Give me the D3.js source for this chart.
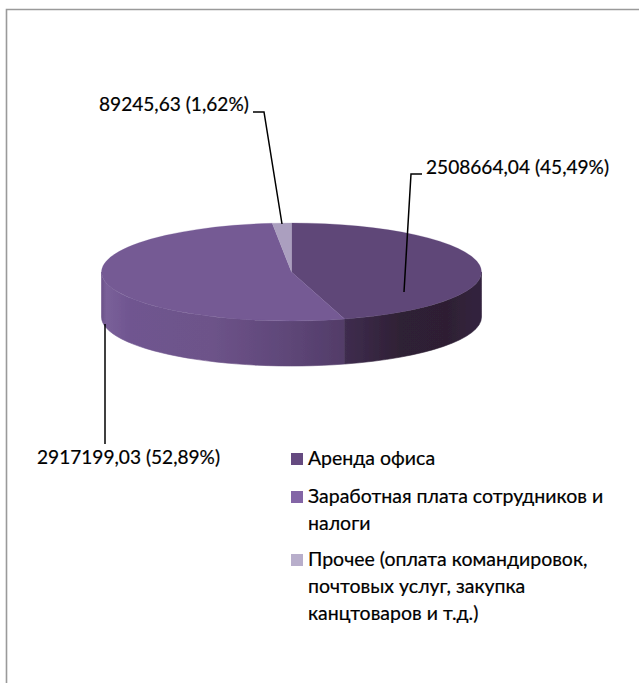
<!DOCTYPE html>
<html>
<head>
<meta charset="utf-8">
<script src="https://cdn.jsdelivr.net/npm/d3@7"></script>
<style>
  html, body { margin: 0; padding: 0; background: #fff; }
  svg { display: block; }
  text { font-family: Lato, "Open Sans", sans-serif; fill: #000; stroke: #000; stroke-width: 0.2; }
</style>
</head>
<body>
<script>
const categories = ['Аренда офиса', 'Заработная плата сотрудников и налоги', 'Прочее (оплата командировок, почтовых услуг, закупка канцтоваров и т.д.)']
const values = [2508664.04, 2917199.03, 89245.63]
const legendLines = [
  ['Аренда офиса'],
  ['Заработная плата сотрудников и', 'налоги'],
  ['Прочее (оплата командировок,', 'почтовых услуг, закупка', 'канцтоваров и т.д.)']
]
const topColors = ['#5f4678', '#745a94', '#ab9fbf']
const legendColors = ['#654a80', '#8365a6', '#b8aecb']

const width = 639
const height = 683

const svg = d3.select('body').append('svg')
  .attr('width', width)
  .attr('height', height)

// frame, only top and left are visible
svg.append('path')
  .attr('d', `M${width},9.5H6.5V${height}`)
  .attr('fill', 'none')
  .attr('stroke', '#9a9a9a')
  .attr('stroke-width', 1.6)

const cx = 291.5
const cy = 272
const rx = 190
const ry = 49
const depth = 45

const total = d3.sum(values)
const pie = d3.pie().sort(null)(values)
const arc = d3.arc().innerRadius(0).outerRadius(rx)
const locale = d3.formatLocale({ decimal: ',', thousands: '', grouping: [3], currency: ['', ''] })
const fmt = locale.format('.2f')
const labelText = i => `${fmt(values[i])} (${fmt(values[i] / total * 100)}%)`

const defs = svg.append('defs')

defs.append('filter')
  .attr('id', 'soft')
  .append('feGaussianBlur')
  .attr('stdDeviation', 0.45)

const wallGrad = (id, stops, x0, x1) => {
  const g = defs.append('linearGradient')
    .attr('id', id)
    .attr('gradientUnits', 'userSpaceOnUse')
    .attr('x1', x0).attr('x2', x1)
    .attr('y1', 0).attr('y2', 0)
  stops.forEach(s => g.append('stop').attr('offset', s[0]).attr('stop-color', s[1]))
}

const px = a => cx + rx * Math.sin(a)
const py = a => cy - ry * Math.cos(a)

wallGrad('wall0', [[0, '#3f2d4f'], [0.4, '#2f2035'], [0.75, '#2e1f33'], [1, '#33243f']], px(pie[0].endAngle), cx + rx)
wallGrad('wall1', [[0, '#6b5289'], [0.02, '#7a6099'], [0.12, '#6f5590'], [0.45, '#6d5389'], [0.75, '#5f4779'], [1, '#523c68']], cx - rx, px(pie[0].endAngle))

const pieGroup = svg.append('g').attr('filter', 'url(#soft)')

// walls, front half of the ellipse only
const wall = (a0, a1) => {
  const x0 = px(a0), y0 = py(a0), x1 = px(a1), y1 = py(a1)
  return `M${x0},${y0}A${rx},${ry} 0 0 1 ${x1},${y1}L${x1},${y1 + depth}A${rx},${ry} 0 0 0 ${x0},${y0 + depth}Z`
}
pieGroup.append('path')
  .attr('d', wall(pie[0].endAngle, Math.PI * 1.5))
  .attr('fill', 'url(#wall1)')
  .attr('stroke', 'url(#wall1)')
  .attr('stroke-width', 0.6)
pieGroup.append('path')
  .attr('d', wall(Math.PI / 2, pie[0].endAngle))
  .attr('fill', 'url(#wall0)')
  .attr('stroke', 'url(#wall0)')
  .attr('stroke-width', 0.6)

// top face, circle arcs squashed into the ellipse
const topFace = pieGroup.append('g')
  .attr('transform', `translate(${cx},${cy}) scale(1,${ry / rx})`)
topFace.selectAll('path')
  .data(pie)
  .join('path')
  .attr('d', arc)
  .attr('fill', (d, i) => topColors[i])
  .attr('stroke', (d, i) => topColors[i])
  .attr('stroke-width', 0.4)

// leaders
const leaders = [
  [[404, 292], [411, 174], [422, 174]],
  [[105, 324], [105, 444]],
  [[282, 224], [264, 112], [253, 112]]
]
svg.selectAll('.leader')
  .data(leaders)
  .join('path')
  .attr('class', 'leader')
  .attr('d', d3.line())
  .attr('fill', 'none')
  .attr('stroke', '#000')
  .attr('stroke-width', 1.5)

const labelPos = [[426, 168], [37, 458], [99, 105]]
svg.selectAll('.label')
  .data(values)
  .join('text')
  .attr('class', 'label')
  .attr('x', (d, i) => labelPos[i][0])
  .attr('y', (d, i) => labelPos[i][1])
  .attr('font-size', 19.1)
  .attr('dy', '0.33em')
  .text((d, i) => labelText(i))

// legend
const legendTop = [459, 497, 560]
const lineStep = 26.7
const legend = svg.selectAll('.legend')
  .data(categories)
  .join('g')
  .attr('class', 'legend')
legend.append('rect')
  .attr('x', 291)
  .attr('y', (d, i) => legendTop[i] - 6)
  .attr('width', 12)
  .attr('height', 12)
  .attr('fill', (d, i) => legendColors[i])
legend.each(function (d, i) {
  d3.select(this).selectAll('text')
    .data(legendLines[i])
    .join('text')
    .attr('x', 308)
    .attr('y', (l, j) => legendTop[i] + j * lineStep)
    .attr('dy', '0.33em')
    .attr('font-size', 19.5)
    .text(l => l)
})
</script>
</body>
</html>
